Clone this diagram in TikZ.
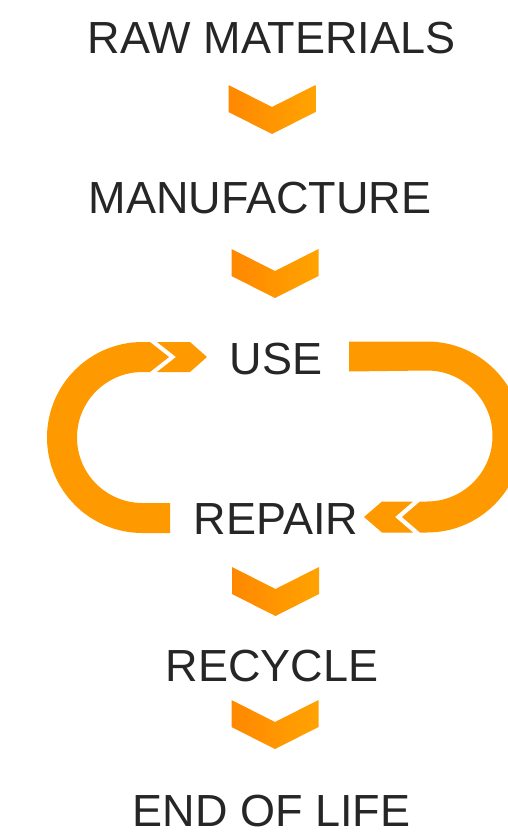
\documentclass[tikz,border=0pt]{standalone}
\usepackage{fontspec}
\setmainfont{Liberation Sans}
\definecolor{txt}{HTML}{262626}
\definecolor{band}{HTML}{FF9900}
\definecolor{chevL}{HTML}{FF8800}
\definecolor{chevR}{HTML}{FFA300}
\tikzset{
  label/.style={anchor=base, inner sep=0pt, text depth=0pt, text=txt, font=\fontsize{45}{54}\selectfont},
  chev/.pic={\shade[left color=chevL, right color=chevR] (-43.5,0) -- (0,22) -- (43.5,0) -- (43.5,27) -- (0,49) -- (-43.5,27) -- cycle;},
  loopband/.style={fill=band, draw=none}
}
\begin{document}
\begin{tikzpicture}[x=1pt,y=-1pt]
\useasboundingbox (0,0) rectangle (508,833);
\clip (0,0) rectangle (508,833);
% text nodes
\node[label] (raw) at (271.5,53) {RAW MATERIALS};
\node[label] (man) at (260,213) {MANUFACTURE};
\node[label] (use) at (276,374) {USE};
\node[label] (rep) at (276,534) {REPAIR};
\node[label] (rec) at (272,681) {RECYCLE};
\node[label] (end) at (271.5,826) {END OF LIFE};
% chevrons
\pic at (272,85) {chev};
\pic at (275,249) {chev};
\pic at (275.5,567) {chev};
\pic at (275,700) {chev};
% left loop (repair -> use)
\fill[loopband] (150,342) -- (142.5,342) arc[start angle=270,end angle=90,radius=95.5]
  -- (170,533) -- (170,503) -- (142.5,503) arc[start angle=90,end angle=270,radius=65.5]
  -- (150,372) -- (169,357) -- cycle;
\fill[loopband] (157,342) -- (190,342) -- (207,357) -- (190,372) -- (157,372) -- (176,357) -- cycle;
% right loop (use -> repair)
\fill[loopband] (349,341.5) -- (427,341.5) arc[start angle=270,end angle=450,radius=95.5]
  -- (420,532.5) -- (402,517) -- (420,501.5) -- (427,501.5) arc[start angle=90,end angle=-90,radius=65.5]
  -- (349,371.5) -- cycle;
\fill[loopband] (413,501.5) -- (382,501.5) -- (364,517) -- (382,532.5) -- (413,532.5) -- (395,517) -- cycle;
\end{tikzpicture}
\end{document}
